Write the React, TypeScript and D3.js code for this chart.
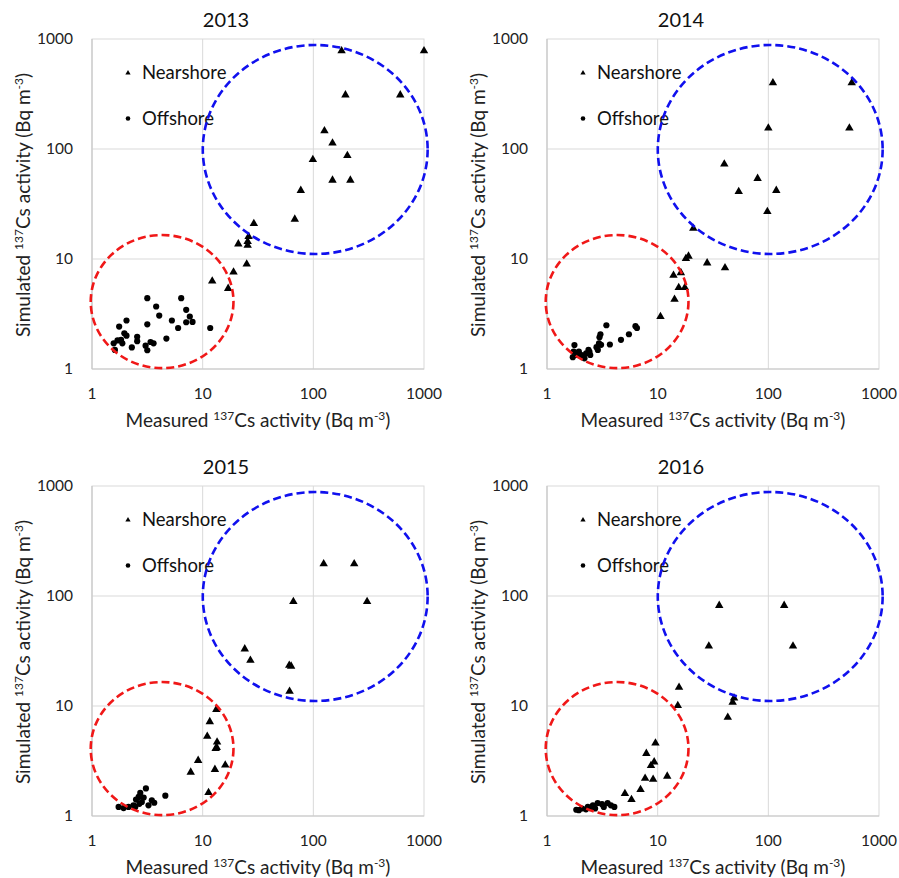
import React from "react";
import * as d3 from "d3";

type Pt = [number, number];

// ---- data (measured, simulated) in Bq m^-3 ----
const nearshore2013: Pt[] = [
  [180, 780], [1000, 780], [195, 310], [610, 310], [126, 146], [149, 113],
  [203, 87], [99, 80], [149, 52], [216, 52], [77, 42], [68, 23], [29, 21],
  [26, 16], [25.5, 14.4], [21, 13.7], [25.5, 13.3], [25, 9], [19, 7.6],
  [12.2, 6.3], [17, 5.4],
];
const offshore2013: Pt[] = [
  [3.16, 4.4], [6.4, 4.4], [3.8, 3.7], [7.1, 3.45], [4.05, 3.06], [7.65, 3.0],
  [2.05, 2.76], [5.27, 2.76], [7.1, 2.66], [8.1, 2.68], [3.16, 2.55], [1.76, 2.43],
  [6.0, 2.36], [11.7, 2.36], [1.96, 2.11], [2.05, 2.01], [2.56, 1.96], [4.7, 1.89],
  [1.83, 1.84], [2.56, 1.79], [3.38, 1.76], [3.6, 1.71], [1.57, 1.71], [1.88, 1.71],
  [3.05, 1.63], [2.29, 1.57], [3.16, 1.48], [1.61, 1.49], [1.7, 1.82],
];
const nearshore2014: Pt[] = [
  [110, 400], [567, 400], [100, 155], [540, 155], [40, 73], [80, 54], [54, 41],
  [118, 42], [98, 27], [21, 19], [19, 10.6], [18, 10.1], [28, 9.2], [40.6, 8.3],
  [13.9, 7.1], [16.2, 7.5], [15.5, 5.5], [17.6, 5.5], [14.2, 4.3], [10.6, 3.0],
];
const offshore2014: Pt[] = [
  [3.44, 2.5], [6.3, 2.45], [6.5, 2.36], [5.5, 2.07], [4.66, 1.84], [3.04, 2.07],
  [2.98, 1.94], [3.7, 1.67], [2.95, 1.71], [2.8, 1.58], [3.08, 1.66], [2.88, 1.49],
  [2.37, 1.49], [2.42, 1.43], [2.26, 1.39], [2.06, 1.34], [1.77, 1.65], [1.74, 1.44],
  [1.71, 1.28], [1.94, 1.44], [2.18, 1.25], [2.46, 1.34], [1.87, 1.34],
];
const nearshore2015: Pt[] = [
  [124, 196], [234, 196], [66, 89], [306, 89], [24, 33], [27, 26], [60.6, 23.4],
  [63, 23], [61, 13.6], [13.3, 9.3], [11.6, 7.2], [11, 5.3], [13.5, 4.7],
  [13.1, 4.1], [13.4, 4.2], [9.1, 3.2], [7.8, 2.5], [12.9, 2.65], [16, 2.9],
  [11.3, 1.63],
];
const offshore2015: Pt[] = [
  [3.07, 1.78], [4.6, 1.53], [2.73, 1.62], [2.64, 1.49], [2.5, 1.41], [3.47, 1.39],
  [3.65, 1.32], [3.24, 1.25], [2.82, 1.34], [2.37, 1.25], [2.14, 1.21], [1.93, 1.18],
  [1.74, 1.21], [2.46, 1.21], [2.68, 1.29], [2.93, 1.47],
];
const nearshore2016: Pt[] = [
  [36, 82], [139, 82], [29, 35], [167, 35], [15.6, 14.8], [49, 11.8], [47.6, 10.8],
  [15.2, 10.1], [43, 7.9], [9.55, 4.6], [7.9, 3.7], [9.3, 3.1], [8.7, 2.87],
  [12.2, 2.3], [7.7, 2.2], [9.1, 2.15], [7.0, 1.74], [5.06, 1.6], [5.8, 1.41],
];
const offshore2016: Pt[] = [
  [1.84, 1.14], [2.07, 1.17], [2.25, 1.15], [2.45, 1.18], [2.6, 1.25], [2.87, 1.31],
  [3.14, 1.28], [3.53, 1.31], [3.78, 1.25], [4.06, 1.21], [2.34, 1.21], [1.94, 1.13],
  [2.72, 1.17], [3.26, 1.21],
];

const years = ["2013", "2014", "2015", "2016"];
const nearshoreSets = [nearshore2013, nearshore2014, nearshore2015, nearshore2016];
const offshoreSets = [offshore2013, offshore2014, offshore2015, offshore2016];
const axisTicks = [1, 10, 100, 1000];
const seriesNames = ["Nearshore", "Offshore"];

// ellipses: centre (data units) and half-widths in decades
const redCentre: Pt = [4.3, 4.1];
const redRadii: Pt = [0.645, 0.605];
const blueCentre: Pt = [104, 99];
const blueRadii: Pt = [1.016, 0.95];

const FONT = "Lato, 'Open Sans', 'DejaVu Sans', sans-serif";
const GRID = "#d9d9d9";

function AxisTitle({ word }: { word: string }) {
  return (
    <>
      {word} <tspan fontSize={12} dy={-7}>137</tspan><tspan dy={7}>Cs activity (Bq m</tspan>
      <tspan fontSize={12} dy={-7}>-3</tspan><tspan dy={7}>)</tspan>
    </>
  );
}

function Panel({ title, ox, oy, near, off }: { title: string; ox: number; oy: number; near: Pt[]; off: Pt[] }) {
  const left = ox + 92;
  const top = oy + 39;
  const w = 332;
  const h = 330;
  const x = d3.scaleLog().domain([1, 1000]).range([left, left + w]);
  const y = d3.scaleLog().domain([1, 1000]).range([top + h, top]);
  const tri = d3.symbol().type(d3.symbolTriangle).size(31)() as string;
  const triSmall = d3.symbol().type(d3.symbolTriangle).size(12)() as string;

  const ell = (c: Pt, r: Pt, color: string) => {
    const cx = x(c[0]);
    const cy = y(c[1]);
    const rx = x(c[0] * Math.pow(10, r[0])) - cx;
    const ry = cy - y(c[1] * Math.pow(10, r[1]));
    return (
      <ellipse cx={cx} cy={cy} rx={rx} ry={ry} fill="none" stroke={color}
        strokeWidth={2.6} strokeDasharray="8 4" />
    );
  };

  return (
    <g fontFamily={FONT} fill="#000">
      <text x={ox + 226} y={oy + 27} fontSize={20} textAnchor="middle" fill="#111">{title}</text>
      {/* grid */}
      {axisTicks.slice(1, 3).map((t) => (
        <g key={"g" + t}>
          <line x1={x(t)} x2={x(t)} y1={top} y2={top + h} stroke={GRID} strokeWidth={1} />
          <line x1={left} x2={left + w} y1={y(t)} y2={y(t)} stroke={GRID} strokeWidth={1} />
        </g>
      ))}
      <rect x={left} y={top} width={w} height={h} fill="none" stroke={GRID} strokeWidth={1} />
      <line x1={left} x2={left} y1={top} y2={top + h} stroke="#c8c8c8" strokeWidth={1.2} />
      <line x1={left} x2={left + w} y1={top + h} y2={top + h} stroke="#c8c8c8" strokeWidth={1.2} />
      {/* tick labels */}
      {axisTicks.map((t) => (
        <text key={"xt" + t} x={x(t)} y={oy + 399} fontSize={15.5} textAnchor="middle" fill="#222">{t}</text>
      ))}
      {axisTicks.map((t) => (
        <text key={"yt" + t} x={ox + 73} y={y(t) + 5} fontSize={15.5} textAnchor="end" fill="#222">{t}</text>
      ))}
      {/* axis titles */}
      <text x={left + w / 2} y={oy + 427} fontSize={19} textAnchor="middle" fill="#222">
        <AxisTitle word="Measured" />
      </text>
      <text transform={`translate(${ox + 30},${oy + 205}) rotate(-90)`} fontSize={19} textAnchor="middle" fill="#222">
        <AxisTitle word="Simulated" />
      </text>
      {/* points */}
      {off.map((p, i) => (
        <circle key={"o" + i} cx={x(p[0])} cy={y(p[1])} r={3.1} fill="#000" />
      ))}
      {near.map((p, i) => (
        <path key={"n" + i} d={tri} transform={`translate(${x(p[0])},${y(p[1])})`} fill="#000" />
      ))}
      {/* legend */}
      <path d={triSmall} transform={`translate(${ox + 128},${oy + 73})`} fill="#000" />
      <text x={ox + 142} y={oy + 79} fontSize={18.5} fill="#111">{seriesNames[0]}</text>
      <circle cx={ox + 128} cy={oy + 118.5} r={2.3} fill="#000" />
      <text x={ox + 142} y={oy + 125} fontSize={18.5} fill="#111">{seriesNames[1]}</text>
      {/* ellipses */}
      {ell(redCentre, redRadii, "#f01818")}
      {ell(blueCentre, blueRadii, "#1010ee")}
    </g>
  );
}

export default function App() {
  const origins: Pt[] = [[0, 0], [455, 0], [0, 447], [455, 447]];
  return (
    <svg width={899} height={878} style={{ position: "absolute", left: 0, top: 0, background: "#fff" }}>
      <rect width={899} height={878} fill="#fff" />
      {years.map((yr, i) => (
        <Panel key={yr} title={yr} ox={origins[i][0]} oy={origins[i][1]} near={nearshoreSets[i]} off={offshoreSets[i]} />
      ))}
    </svg>
  );
}
